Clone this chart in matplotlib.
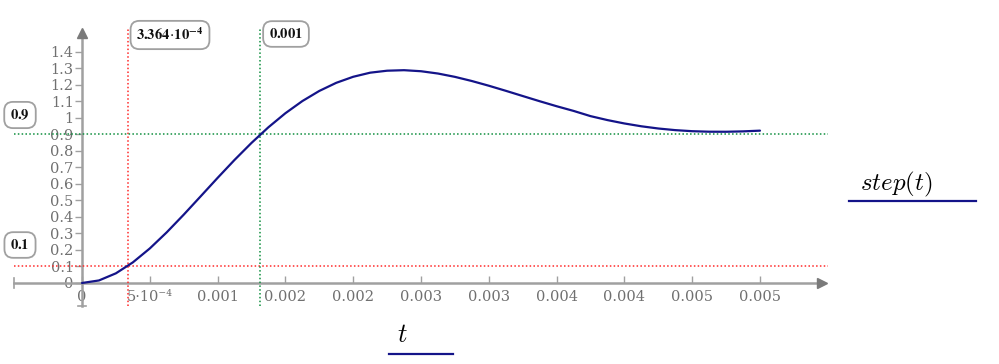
import matplotlib
matplotlib.use("Agg")
import matplotlib.pyplot as plt

# ---- data ----
t_vals = [0.0, 0.000125, 0.00025, 0.000375, 0.0005, 0.000625, 0.00075, 0.000875,
          0.001, 0.001125, 0.00125, 0.001375, 0.0015, 0.001625, 0.00175, 0.001875,
          0.002, 0.002125, 0.00225, 0.002375, 0.0025, 0.002625, 0.00275, 0.002875,
          0.003, 0.003125, 0.00325, 0.003375, 0.0035, 0.003625, 0.00375, 0.003875,
          0.004, 0.004125, 0.00425, 0.004375, 0.0045, 0.004625, 0.00475, 0.004875,
          0.005]
step_vals = [0.0, 0.0154, 0.0586, 0.1249, 0.2093, 0.3072, 0.4139, 0.5251,
             0.6369, 0.7458, 0.8488, 0.9438, 1.0287, 1.1023, 1.1637, 1.2129,
             1.2495, 1.2743, 1.2863, 1.2894, 1.2831, 1.2692, 1.2490, 1.2238,
             1.1953, 1.1646, 1.1329, 1.1014, 1.0711, 1.0427, 1.0111, 0.9871,
             0.9666, 0.9495, 0.9361, 0.9262, 0.9198, 0.9167, 0.9164, 0.9187,
             0.9231]

x_ticks = [0, 0.0005, 0.001, 0.0015, 0.002, 0.0025, 0.003, 0.0035, 0.004, 0.0045, 0.005]
x_tick_labels = ["0", "5·10⁻⁴", "0.001", "0.002", "0.002", "0.003", "0.003",
                 "0.004", "0.004", "0.005", "0.005"]
y_ticks = [0, 0.1, 0.2, 0.3, 0.4, 0.5, 0.6, 0.7, 0.8, 0.9, 1.0, 1.1, 1.2, 1.3, 1.4]
y_tick_labels = ["0", "0.1", "0.2", "0.3", "0.4", "0.5", "0.6", "0.7", "0.8", "0.9",
                 "1", "1.1", "1.2", "1.3", "1.4"]

t_low, t_high = 3.364e-4, 0.00131
y_low, y_high = 0.1, 0.9
t_low_label = r"$\mathbf{3.364}\!\cdot\!\mathbf{10^{-4}}$"
t_high_label = r"$\mathbf{0.001}$"
y_low_label = r"$\mathbf{0.1}$"
y_high_label = r"$\mathbf{0.9}$"

W, H = 999, 364
plt.rcParams['font.family'] = ['DejaVu Serif']
plt.rcParams['mathtext.fontset'] = 'cm'

fig = plt.figure(figsize=(W / 100, H / 100), dpi=100)

def fx(px):
    return px / W

def fy(py):
    return 1 - py / H

ax = fig.add_axes([fx(14), fy(306), (828 - 14) / W, (306 - 29) / H])
ax.set_xlim(-5.015e-4, 0.0055015)
ax.set_ylim(-0.1394, 1.539)
ax.patch.set_alpha(0)

gray = '#a0a0a0'
for s in ['top', 'right']:
    ax.spines[s].set_visible(False)
ax.spines['left'].set_position(('data', 0))
ax.spines['bottom'].set_position(('data', 0))
ax.spines['left'].set_color(gray)
ax.spines['bottom'].set_color(gray)
ax.spines['left'].set_linewidth(1.8)
ax.spines['bottom'].set_linewidth(1.8)
ax.spines['left'].set_bounds(-0.1394, 1.50)
ax.spines['bottom'].set_bounds(-5.015e-4, 0.00545)

# arrow heads
ax.plot([0], [1.515], marker='^', color='#7a7a7a', markersize=7, clip_on=False, zorder=5)
ax.plot([0.00546], [0], marker='>', color='#7a7a7a', markersize=7, clip_on=False, zorder=5)
# end caps
ax.plot([-5.015e-4, -5.015e-4], [-0.03, 0.03], color=gray, lw=1.2, clip_on=False)
ax.plot([-0.00003, 0.00003], [-0.1394, -0.1394], color=gray, lw=1.2, clip_on=False)

ax.set_xticks(x_ticks)
ax.set_xticklabels(x_tick_labels)
ax.set_yticks(y_ticks)
ax.set_yticklabels(y_tick_labels)
ax.tick_params(axis='x', direction='in', length=5, width=1, color=gray,
               labelcolor='#707070', labelsize=10.5, pad=5)
ax.tick_params(axis='y', direction='out', length=5, width=1, color=gray,
               labelcolor='#707070', labelsize=10.5, pad=1)

# marker lines
red = '#ff2a2a'
green = '#0f8f3f'
ax.axhline(y_low, color=red, ls=(0, (1, 1.5)), lw=1.1, zorder=3)
ax.axvline(t_low, color=red, ls=(0, (1, 1.5)), lw=1.1, zorder=3)
ax.axhline(y_high, color=green, ls=(0, (1, 1.5)), lw=1.1, zorder=3)
ax.axvline(t_high, color=green, ls=(0, (1, 1.5)), lw=1.1, zorder=3)

# curve
ax.plot(t_vals, step_vals, color='#141489', lw=1.6, zorder=4,
        solid_joinstyle='round', solid_capstyle='round')

# boxed value labels
box = dict(boxstyle='round,pad=0.4,rounding_size=0.6', fc='white', ec='#a0a0a0', lw=1.3)
for (px_, py_, lab) in [(170, 35, t_low_label), (286, 34, t_high_label),
                        (20, 115, y_high_label), (20, 245, y_low_label)]:
    fig.text(fx(px_), fy(py_), lab, ha='center', va='center', fontsize=10.5,
             color='#111111', bbox=box, math_fontfamily='stix')

# axis labels with underline
fig.text(fx(896), fy(184), r'$step(t)$', ha='center', va='center', fontsize=18, color='black')
fig.add_artist(plt.Line2D([fx(849), fx(976)], [fy(200.5), fy(200.5)], color='#141489', lw=1.6))
fig.text(fx(402), fy(334), r'$t$', ha='center', va='center', fontsize=19, color='black')
fig.add_artist(plt.Line2D([fx(389), fx(453)], [fy(353.5), fy(353.5)], color='#141489', lw=1.6))

fig.savefig('out.png', dpi=100)
